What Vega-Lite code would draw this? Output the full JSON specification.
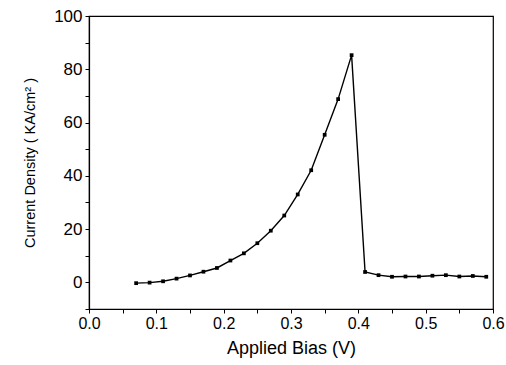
{
  "$schema": "https://vega.github.io/schema/vega-lite/v6.json",
  "width": 404,
  "height": 293,
  "autosize": {"type": "none"},
  "padding": {"left": 89, "top": 16, "right": 13, "bottom": 56},
  "background": "white",
  "config": {
    "view": {"stroke": "black", "strokeWidth": 1.2},
    "font": "Liberation Sans",
    "axis": {
      "domainColor": "black",
      "domainWidth": 1.2,
      "tickColor": "black",
      "tickSize": 4,
      "grid": false,
      "labelColor": "black",
      "titleColor": "black",
      "labelFont": "Liberation Sans",
      "titleFont": "Liberation Sans",
      "titleFontWeight": "normal",
      "labelFontSize": 15,
      "titleFontSize": 16
    }
  },
  "data": {
    "values": [
      {"v": 0.07, "j": -0.3},
      {"v": 0.09, "j": -0.1},
      {"v": 0.11, "j": 0.4},
      {"v": 0.13, "j": 1.4},
      {"v": 0.15, "j": 2.6},
      {"v": 0.17, "j": 4.0},
      {"v": 0.19, "j": 5.4},
      {"v": 0.21, "j": 8.2},
      {"v": 0.23, "j": 10.9},
      {"v": 0.25, "j": 14.7},
      {"v": 0.27, "j": 19.4},
      {"v": 0.29, "j": 25.1},
      {"v": 0.31, "j": 33.0},
      {"v": 0.33, "j": 42.1},
      {"v": 0.35, "j": 55.4},
      {"v": 0.37, "j": 68.8},
      {"v": 0.39, "j": 85.3},
      {"v": 0.41, "j": 3.9},
      {"v": 0.43, "j": 2.7},
      {"v": 0.45, "j": 2.1},
      {"v": 0.47, "j": 2.2},
      {"v": 0.49, "j": 2.2},
      {"v": 0.51, "j": 2.5},
      {"v": 0.53, "j": 2.7},
      {"v": 0.55, "j": 2.2},
      {"v": 0.57, "j": 2.4},
      {"v": 0.59, "j": 2.1}
    ]
  },
  "encoding": {
    "x": {
      "field": "v",
      "type": "quantitative",
      "scale": {"domain": [0, 0.6], "nice": false, "zero": false},
      "axis": {
        "title": "Applied Bias (V)",
        "titleFontSize": 18,
        "values": [0, 0.05, 0.1, 0.15, 0.2, 0.25, 0.3, 0.35, 0.4, 0.45, 0.5, 0.55, 0.6],
        "labelExpr": "round(datum.value*100) % 10 == 0 ? format(datum.value, '.1f') : ''",
        "labelFontSize": 16,
        "labelPadding": 2,
        "titlePadding": 8,
        "labelFlush": false
      }
    },
    "y": {
      "field": "j",
      "type": "quantitative",
      "scale": {"domain": [-10, 100], "nice": false, "zero": false},
      "axis": {
        "title": "Current Density ( KA/cm² )",
        "titleFontSize": 14.5,
        "values": [-10, 0, 10, 20, 30, 40, 50, 60, 70, 80, 90, 100],
        "labelExpr": "datum.value % 20 == 0 ? datum.value : ''",
        "labelFontSize": 17,
        "labelPadding": 3,
        "titlePadding": 16,
        "labelFlush": false
      }
    }
  },
  "layer": [
    {"mark": {"type": "line", "color": "black", "strokeWidth": 1.4}},
    {"mark": {"type": "square", "color": "black", "filled": true, "opacity": 1, "size": 14}}
  ]
}
